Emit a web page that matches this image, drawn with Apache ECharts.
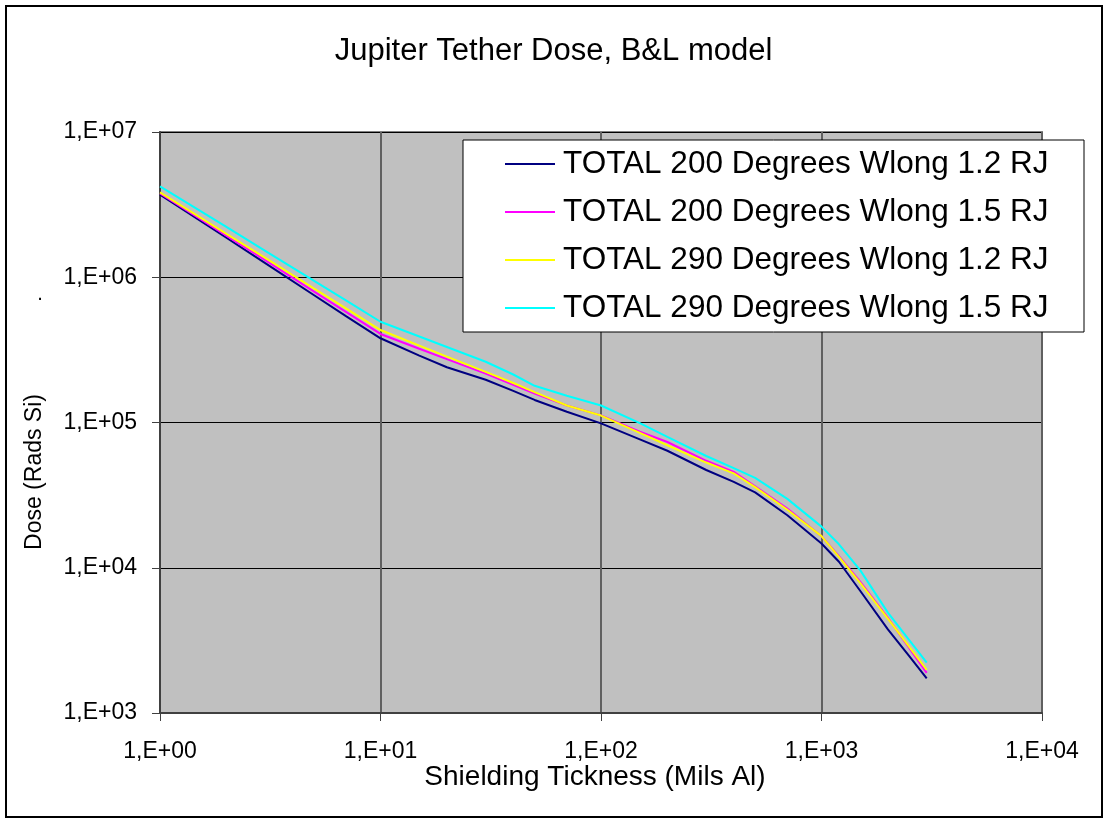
<!DOCTYPE html>
<html>
<head>
<meta charset="utf-8">
<script src="https://cdn.jsdelivr.net/npm/echarts@6/dist/echarts.min.js"></script>
<style>
html,body{margin:0;padding:0;background:#fff;}
#chart{width:1107px;height:823px;}
</style>
</head>
<body>
<div id="chart"></div>
<script>
// Shielding thickness (Mils Al)
var thickness = [1, 2, 3, 5, 7, 10, 15, 20, 30, 40, 50, 70, 100, 150, 200, 300, 400, 500, 700, 1000, 1200, 1500, 2000, 2500, 3000];
// Dose (Rads Si)
var dose200_12 = [3.71e6, 1.87e6, 1.25e6, 7.52e5, 5.38e5, 3.80e5, 2.89e5, 2.40e5, 1.97e5, 1.65e5, 1.43e5, 1.185e5, 9.87e4, 7.65e4, 6.39e4, 4.71e4, 3.90e4, 3.30e4, 2.30e4, 1.47e4, 1.10e4, 6.92e3, 3.76e3, 2.46e3, 1.73e3];
var dose200_15 = [3.78e6, 1.93e6, 1.31e6, 7.97e5, 5.75e5, 4.07e5, 3.22e5, 2.73e5, 2.17e5, 1.82e5, 1.58e5, 1.31e5, 1.12e5, 8.64e4, 7.34e4, 5.45e4, 4.57e4, 3.64e4, 2.56e4, 1.65e4, 1.20e4, 7.98e3, 4.52e3, 2.80e3, 1.89e3];
var dose290_12 = [3.84e6, 1.99e6, 1.36e6, 8.36e5, 6.08e5, 4.33e5, 3.38e5, 2.84e5, 2.23e5, 1.87e5, 1.62e5, 1.31e5, 1.116e5, 8.48e4, 6.97e4, 5.30e4, 4.46e4, 3.59e4, 2.51e4, 1.65e4, 1.19e4, 7.84e3, 4.46e3, 2.85e3, 1.98e3];
var dose290_15 = [4.23e6, 2.22e6, 1.52e6, 9.44e5, 6.90e5, 4.94e5, 3.91e5, 3.31e5, 2.62e5, 2.14e5, 1.79e5, 1.53e5, 1.31e5, 9.89e4, 7.95e4, 5.88e4, 4.85e4, 4.16e4, 2.98e4, 1.92e4, 1.45e4, 9.59e3, 4.91e3, 3.17e3, 2.22e3];
var seriesNames = ['TOTAL 200 Degrees Wlong 1.2 RJ', 'TOTAL 200 Degrees Wlong 1.5 RJ', 'TOTAL 290 Degrees Wlong 1.2 RJ', 'TOTAL 290 Degrees Wlong 1.5 RJ'];
var seriesColors = ['#000080', '#ff00ff', '#ffff00', '#00ffff'];
var xTickLabels = ['1,E+00', '1,E+01', '1,E+02', '1,E+03', '1,E+04'];
var yTickLabels = ['1,E+03', '1,E+04', '1,E+05', '1,E+06', '1,E+07'];

var FONT = '"Liberation Sans", Arial, sans-serif';
function pairs(ys){ return thickness.map(function(x,i){ return [x, ys[i]]; }); }
var allDose = [dose200_12, dose200_15, dose290_12, dose290_15];

var chart = echarts.init(document.getElementById('chart'), null, {renderer:'canvas'});
chart.setOption({
  animation: false,
  backgroundColor: '#ffffff',
  title: {
    text: 'Jupiter Tether Dose, B&L model',
    left: 'center', top: 36, padding: 0,
    textStyle: {fontFamily: FONT, fontSize: 31, fontWeight: 'normal', color: '#000'}
  },
  grid: {
    left: 160, right: 65, top: 132, bottom: 110,
    show: true, backgroundColor: '#c0c0c0', borderColor: '#808080', borderWidth: 2
  },
  legend: {
    orient: 'vertical', left: 463, top: 140,
    backgroundColor: '#ffffff', borderColor: '#000000', borderWidth: 1,
    padding: [6, 33, 6, 42], itemGap: 12,
    icon: 'rect', itemWidth: 50, itemHeight: 2,
    data: seriesNames,
    textStyle: {fontFamily: FONT, fontSize: 31.5, color: '#000', lineHeight: 36, width: 488, padding: [0, 0, 0, 3]}
  },
  xAxis: {
    type: 'log', logBase: 10, min: 1, max: 10000,
    axisLine: {show: true, lineStyle: {color: '#404040', width: 2}},
    axisTick: {show: true, inside: false, length: 8, lineStyle: {color: '#404040', width: 1}},
    axisLabel: {margin: 27, fontFamily: FONT, fontSize: 23, color: '#000',
      formatter: function(v){ var e = Math.round(Math.log10(v)); return xTickLabels[e]; }},
    splitLine: {show: true, lineStyle: {color: '#606060', width: 2}},
    minorTick: {show: false}
  },
  yAxis: {
    type: 'log', logBase: 10, min: 1000, max: 10000000,
    axisLine: {show: true, lineStyle: {color: '#404040', width: 2}},
    axisTick: {show: true, inside: false, length: 8, lineStyle: {color: '#404040', width: 1}},
    axisLabel: {margin: 23, fontFamily: FONT, fontSize: 23, color: '#000',
      formatter: function(v){ var e = Math.round(Math.log10(v)); return yTickLabels[e - 3]; }},
    splitLine: {show: true, lineStyle: {color: '#000000', width: 1}}
  },
  graphic: [
    {type: 'rect', shape: {x: 6, y: 6, width: 1096, height: 811}, style: {fill: 'none', stroke: '#000', lineWidth: 2}, silent: true, z: 100},
    {type: 'text', x: 595, y: 777, style: {text: 'Shielding Tickness (Mils Al)', fontFamily: FONT, fontSize: 28, fill: '#000', align: 'center', verticalAlign: 'middle'}},
    {type: 'text', x: 35, y: 472, rotation: Math.PI / 2, style: {text: 'Dose (Rads Si)', fontFamily: FONT, fontSize: 23, fill: '#000', align: 'center', verticalAlign: 'middle'}},
    {type: 'text', x: 40, y: 294, style: {text: '.', fontFamily: FONT, fontSize: 20, fill: '#000', align: 'center', verticalAlign: 'middle'}}
  ],
  series: allDose.map(function(d, i){
    return {
      name: seriesNames[i], type: 'line', data: pairs(d),
      symbol: 'none', showSymbol: false, smooth: false,
      color: seriesColors[i],
      lineStyle: {color: seriesColors[i], width: 2},
      itemStyle: {color: seriesColors[i]}
    };
  })
});
</script>
</body>
</html>
